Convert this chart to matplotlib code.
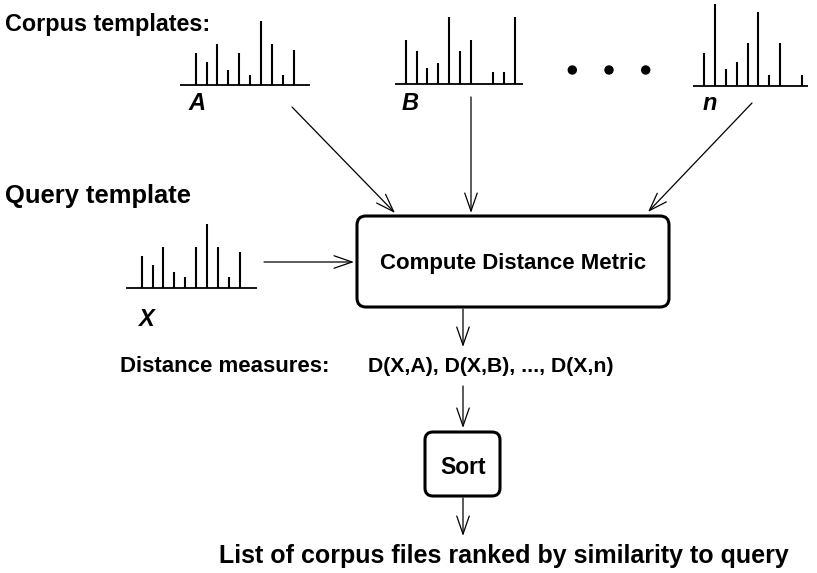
import matplotlib.pyplot as plt
from matplotlib.patches import FancyBboxPatch, FancyArrowPatch, Circle

plt.rcParams['font.family'] = ['Liberation Sans', 'DejaVu Sans']

# template histograms (bar heights, 0 = empty slot)
hist_A = [32, 23, 41, 15, 32, 10, 64, 41, 10, 35]
hist_B = [44, 33, 16, 21, 67, 33, 44, 0, 12, 12, 67]
hist_n = [33, 82, 17, 24, 43, 74, 11, 43, 0, 11]
hist_X = [32, 23, 41, 16, 11, 41, 64, 41, 11, 36]

labels = ['A', 'B', 'n', 'X']
box_text = 'Compute Distance Metric'
sort_text = 'Sort'
dist_label = 'Distance measures:'
dist_values = 'D(X,A), D(X,B), ..., D(X,n)'
result_text = 'List of corpus files ranked by similarity to query'

fig = plt.figure(figsize=(8.17, 5.73), dpi=100)
ax = fig.add_axes([0, 0, 1, 1])
ax.set_xlim(0, 817)
ax.set_ylim(573, 0)
ax.axis('off')

step = 10.9


def draw_hist(heights, x0, base, xl, xr):
    ax.plot([xl, xr], [base, base], color='black', lw=1.3, solid_capstyle='butt')
    for i, h in enumerate(heights):
        if h > 0:
            x = x0 + i * step
            ax.plot([x, x], [base, base - h], color='black', lw=1.5, solid_capstyle='butt')


draw_hist(hist_A, 195.7, 85, 180, 310)
draw_hist(hist_B, 405.7, 83.5, 395, 523)
draw_hist(hist_n, 704, 85.7, 693, 808)
draw_hist(hist_X, 141.7, 288.3, 126, 257)

lab_kw = dict(fontsize=17, fontweight='bold', fontstyle='italic', ha='center', va='center')
ax.text(197, 104, labels[0], **lab_kw)
ax.text(410, 103, labels[1], **lab_kw)
ax.text(710, 104, labels[2], **lab_kw)
ax.text(146, 319, labels[3], **lab_kw)

# dots
for cx in [572.3, 609, 645.7]:
    ax.add_patch(Circle((cx, 70), 4, color='black'))

bold = dict(fontweight='bold', va='center')
ax.text(5, 24, 'Corpus templates:', ha='left', fontsize=16.8, **bold)
ax.text(5, 196, 'Query template', ha='left', fontsize=18.4, **bold)
ax.text(120, 366, dist_label, ha='left', fontsize=16, **bold)
ax.text(368, 366, dist_values, ha='left', fontsize=15.3, **bold)
ax.text(504, 556, result_text, ha='center', fontsize=18, **bold)

# boxes
ax.add_patch(FancyBboxPatch((357, 216), 312, 91, boxstyle='round,pad=0,rounding_size=9',
                            fc='white', ec='black', lw=2.2))
ax.text(513, 263, box_text, ha='center', fontsize=16, **bold)
ax.add_patch(FancyBboxPatch((425, 432), 75, 64, boxstyle='round,pad=0,rounding_size=8',
                            fc='white', ec='black', lw=2.2))
ax.text(463, 468, sort_text, ha='center', fontsize=16.5, **bold)


def arrow(p, q):
    ax.add_patch(FancyArrowPatch(p, q, arrowstyle='->,head_length=13,head_width=4.5',
                                 color='black', lw=0.9, shrinkA=0, shrinkB=0,
                                 mutation_scale=1))


arrow((292, 107), (395, 213))
arrow((471, 97), (471, 213))
arrow((752, 103), (648, 212))
arrow((264, 262), (354, 262))
arrow((463, 309), (463, 347))
arrow((463, 386), (463, 428))
arrow((463, 498), (463, 536))

fig.savefig('out.png', dpi=100)
